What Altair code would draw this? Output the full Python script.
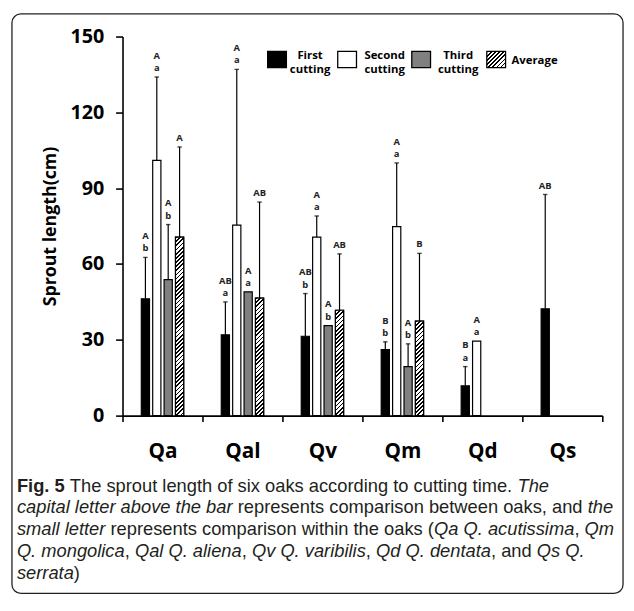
import altair as alt
import pandas as pd

categories = ["Qa", "Qal", "Qv", "Qm", "Qd", "Qs"]
series_names = ["First cutting", "Second cutting", "Third cutting", "Average"]

first_cutting = [46.2, 32.0, 31.4, 26.1, 11.8, 42.3]
first_err_top = [62.6, 45.0, 48.3, 29.2, 19.4, 87.5]
first_cap = ["A", "AB", "AB", "B", "B", "AB"]
first_small = ["b", "a", "b", "b", "a", ""]

second_cutting = [101.0, 75.4, 70.6, 74.8, 29.5, None]
second_err_top = [134.0, 137.0, 79.0, 100.0, None, None]
second_cap = ["A", "A", "A", "A", "A", ""]
second_small = ["a", "a", "a", "a", "a", ""]

third_cutting = [53.8, 49.0, 35.6, 19.4, None, None]
third_err_top = [75.6, None, None, 28.4, None, None]
third_cap = ["A", "A", "A", "A", "", ""]
third_small = ["b", "a", "b", "b", "", ""]

average = [70.6, 46.5, 41.7, 37.4, None, None]
average_err_top = [106.3, 84.5, 64.0, 64.2, None, None]
average_cap = ["A", "AB", "AB", "B", "", ""]
average_small = ["", "", "", "", "", ""]

y_ticks = [0, 30, 60, 90, 120, 150]
y_max = 150

# ---------------------------------------------------------------- table
series_data = [
    (series_names[0], first_cutting, first_err_top, first_cap, first_small),
    (series_names[1], second_cutting, second_err_top, second_cap, second_small),
    (series_names[2], third_cutting, third_err_top, third_cap, third_small),
    (series_names[3], average, average_err_top, average_cap, average_small),
]
rows = []
for name, vals, errs, caps, smalls in series_data:
    for c, v, e, cp, sm in zip(categories, vals, errs, caps, smalls):
        if v is None:
            continue
        rows.append({
            "cat": c, "series": name, "value": v, "err": e,
            "label_y": e if e is not None else v,
            "upper": cp if sm else "",
            "lower": sm if sm else cp,
        })
df = pd.DataFrame(rows)
df_err = df[df["err"].notna()]

# ---------------------------------------------------------------- layout
W, H = 486, 384
PAD_L, PAD_T = 116, 25
PAD_R = 626 - PAD_L - W
PAD_B = 603 - PAD_T - H
CHART_FONT = "Open Sans"
band = W / len(categories)
OFF_PI = 0.28
bar_step = 0.1425 * band
bar_w = bar_step * (1 - OFF_PI)
group_w = 3 * bar_step + bar_w
off_range = [band / 2 - group_w / 2, band / 2 + group_w / 2]


def hatch(w, h, period=4.2, dark=0.42):
    t = (w + h) / (w * w + h * h)
    p = period / (w + h)
    stops = []
    o = 0.0
    while o < 1:
        d = min(o + p * dark, 1)
        e = min(o + p, 1)
        stops += [{"offset": o, "color": "#000000"}, {"offset": d, "color": "#000000"},
                  {"offset": d, "color": "#ffffff"}, {"offset": e, "color": "#ffffff"}]
        o += p
    return {"gradient": "linear", "x1": 0, "y1": 0, "x2": t * w, "y2": t * h, "stops": stops}


x_enc = alt.X("cat:N", sort=categories,
              scale=alt.Scale(domain=categories, paddingInner=0, paddingOuter=0),
              axis=alt.Axis(title=None, labelAngle=0, tickBand="extent", tickSize=6,
                            labelFont=CHART_FONT, labelFontSize=21, labelFontWeight="bold",
                            labelColor="black", labelPadding=19, domainColor="black",
                            tickColor="black", domainWidth=1.6, tickWidth=1.6))
xo_enc = alt.XOffset("series:N", sort=series_names,
                     scale=alt.Scale(domain=series_names, range=off_range,
                                     paddingInner=OFF_PI, paddingOuter=0))
y_enc = alt.Y("value:Q", scale=alt.Scale(domain=[0, y_max], nice=False),
              axis=alt.Axis(values=y_ticks, title="Sprout length(cm)", grid=False,
                            labelFont=CHART_FONT, labelFontSize=20, labelFontWeight="bold",
                            labelColor="black", labelPadding=12, tickSize=7,
                            domainColor="black", tickColor="black", domainWidth=1.6, tickWidth=1.6,
                            titleFont=CHART_FONT, titleFontSize=18, titleFontWeight="bold",
                            titleColor="black", titlePadding=11))

bars = alt.Chart(df).mark_bar(stroke="black", strokeWidth=1.2).encode(
    x=x_enc, xOffset=xo_enc, y=y_enc,
    fill=alt.Fill("series:N", scale=alt.Scale(domain=series_names,
                  range=["#000000", "#ffffff", "#808080", "#ffffff"]), legend=None),
)

layers = [bars]
for c, v in zip(categories, average):
    if v is None:
        continue
    h = v / y_max * H
    layers.append(
        alt.Chart(df).transform_filter(
            (alt.datum.cat == c) & (alt.datum.series == series_names[3])
        ).mark_bar(fill=hatch(bar_w, h), stroke="black", strokeWidth=1.2).encode(
            x=x_enc, xOffset=xo_enc, y=y_enc)
    )

rules = alt.Chart(df_err).mark_rule(color="black", strokeWidth=1.2).encode(
    x=x_enc, xOffset=xo_enc, y=y_enc, y2="err:Q")
caps = alt.Chart(df_err).mark_tick(orient="horizontal", size=4.5, thickness=1.4, color="black").encode(
    x=x_enc, xOffset=xo_enc, y=alt.Y("err:Q"))
lower_t = alt.Chart(df).mark_text(font=CHART_FONT, fontSize=9.5, fontWeight="bold",
                                  baseline="alphabetic", dy=-6, color="#222").encode(
    x=x_enc, xOffset=xo_enc, y=alt.Y("label_y:Q"), text="lower:N")
upper_t = alt.Chart(df).mark_text(font=CHART_FONT, fontSize=9.5, fontWeight="bold",
                                  baseline="alphabetic", dy=-18.5, color="#222").encode(
    x=x_enc, xOffset=xo_enc, y=alt.Y("label_y:Q"), text="upper:N")
layers += [rules, caps, lower_t, upper_t]

# ---------------------------------------------------------------- legend
dummy = pd.DataFrame({"d": [0]})
SQ_W, SQ_H = 19, 16.5
leg_fills = ["#000000", "#ffffff", "#808080", hatch(SQ_W, SQ_H)]
leg_sq_x = [147, 218, 293, 369]
leg_txt_x = [190, 265.5, 340, 394]
leg_texts = [["First", "cutting"], ["Second", "cutting"], ["Third", "cutting"], ["Average"]]
for fill, sx, tx, txt in zip(leg_fills, leg_sq_x, leg_txt_x, leg_texts):
    layers.append(alt.Chart(dummy).mark_rect(fill=fill, stroke="black", strokeWidth=1.3).encode(
        x=alt.value(sx), x2=alt.value(sx + SQ_W), y=alt.value(15), y2=alt.value(15 + SQ_H)))
    if len(txt) == 2:
        for k, line in enumerate(txt):
            layers.append(alt.Chart(dummy).mark_text(font=CHART_FONT, fontSize=11.5, fontWeight="bold",
                                                     align="center", baseline="middle").encode(
                x=alt.value(tx), y=alt.value(19.5 + 14 * k), text=alt.value(line)))
    else:
        layers.append(alt.Chart(dummy).mark_text(font=CHART_FONT, fontSize=11.5, fontWeight="bold",
                                                 align="left", baseline="middle").encode(
            x=alt.value(tx), y=alt.value(25), text=alt.value(txt[0])))

# ---------------------------------------------------------------- caption
REG = {" ": 278, "(": 333, ")": 333, ",": 278, ".": 278, "5": 556, "F": 611, "Q": 778, "T": 611,
       "a": 556, "b": 556, "c": 500, "d": 556, "e": 556, "f": 278, "g": 556, "h": 556, "i": 222,
       "j": 222, "k": 500, "l": 222, "m": 833, "n": 556, "o": 556, "p": 556, "q": 556, "r": 333,
       "s": 500, "t": 278, "u": 556, "v": 500, "w": 722, "x": 500, "y": 500, "z": 500}
BOLD = dict(REG, **{"i": 278, "g": 611, "F": 611, "5": 556})


def em(txt, style):
    tab = BOLD if style == "bold" else REG
    return sum(tab.get(ch, 556) for ch in txt) / 1000.0


caption = [
    [("Fig. 5", "bold"), (" The sprout length of six oaks according to cutting time. ", "normal"), ("The", "italic")],
    [("capital letter above the bar", "italic"), (" represents comparison between oaks, and ", "normal"), ("the", "italic")],
    [("small letter", "italic"), (" represents comparison within the oaks (", "normal"),
     ("Qa Q. acutissima", "italic"), (", ", "normal"), ("Qm", "italic")],
    [("Q. mongolica", "italic"), (", ", "normal"), ("Qal Q. aliena", "italic"), (", ", "normal"),
     ("Qv Q. varibilis", "italic"), (", ", "normal"), ("Qd Q. dentata", "italic"), (", and ", "normal"),
     ("Qs Q.", "italic")],
    [("serrata", "italic"), (")", "normal")],
]
line2_em = sum(em(t, s) for t, s in caption[1])
CAP_SIZE = 604 / line2_em
cap_x0 = -107
cap_y0 = 461
cap_dy = 22
for li, line in enumerate(caption):
    xpos = 0.0
    for txt, style in line:
        lead = len(txt) - len(txt.lstrip(" "))
        body = txt.strip(" ")
        x_here = cap_x0 + (xpos + em(" " * lead, style)) * CAP_SIZE
        kw = dict(font="Liberation Sans", fontSize=CAP_SIZE, align="left", baseline="alphabetic",
                  color="#231f20")
        if style == "bold":
            kw["fontWeight"] = "bold"
        if style == "italic":
            kw["fontStyle"] = "italic"
        if body:
            layers.append(alt.Chart(dummy).mark_text(**kw).encode(
                x=alt.value(x_here), y=alt.value(cap_y0 + li * cap_dy), text=alt.value(body)))
        xpos += em(txt, style)

# ---------------------------------------------------------------- frame
layers.append(alt.Chart(dummy).mark_rect(fillOpacity=0, stroke="#222", strokeWidth=1.3, cornerRadius=9).encode(
    x=alt.value(-112), x2=alt.value(507), y=alt.value(-23), y2=alt.value(564)))

chart = alt.layer(*layers).properties(
    width=W, height=H,
    padding={"left": PAD_L, "top": PAD_T, "right": PAD_R, "bottom": PAD_B},
    autosize=alt.AutoSizeParams(type="none"),
).configure_view(stroke=None)

chart.save("out.html", embed_options={"renderer": "svg", "actions": False})
